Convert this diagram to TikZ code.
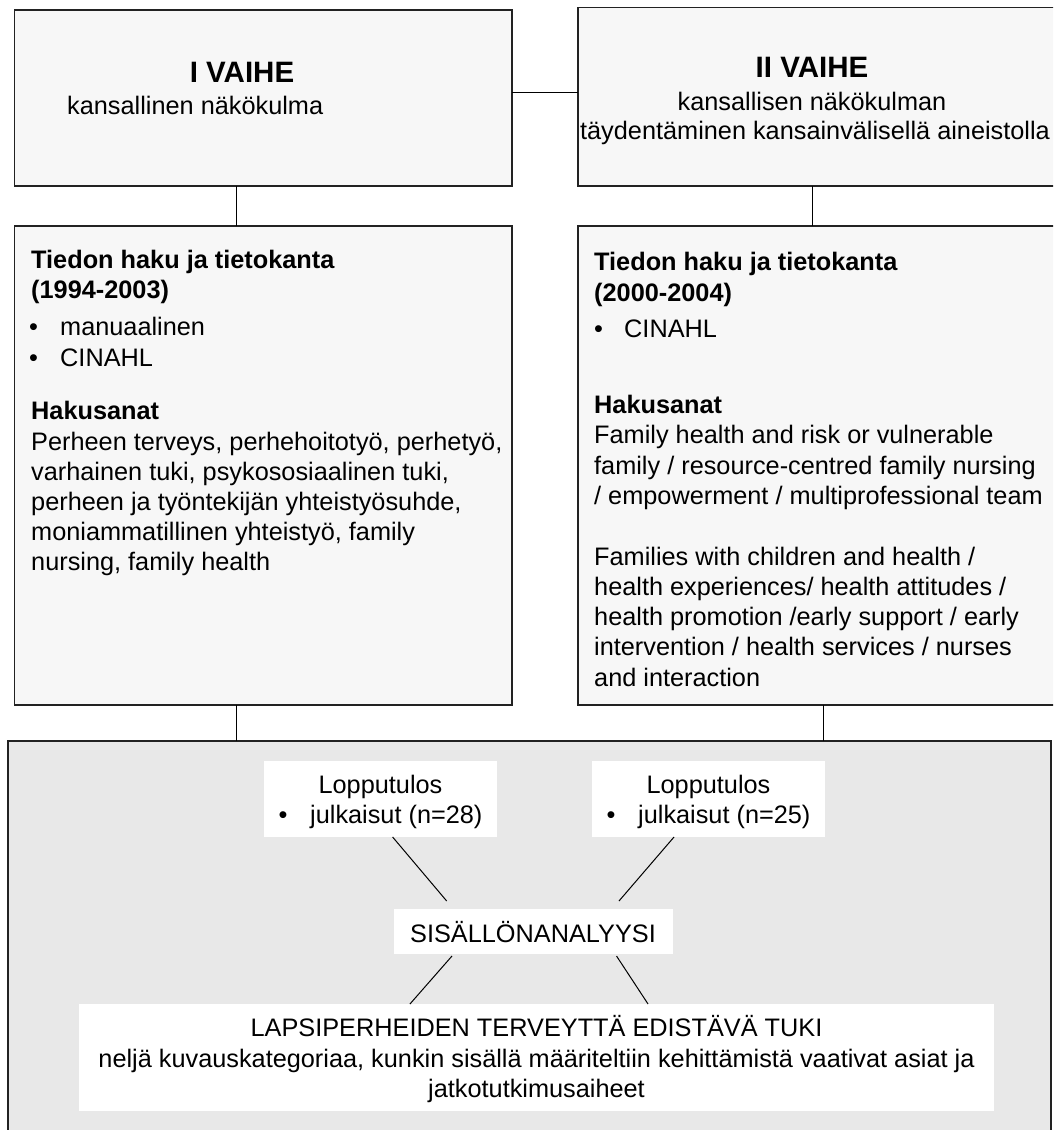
\documentclass[tikz,border=0pt]{standalone}
\usepackage{fontspec}
\setmainfont{Liberation Sans}
\usetikzlibrary{calc}
\definecolor{boxfill}{HTML}{F7F7F7}
\definecolor{grayfill}{HTML}{E8E8E8}
\definecolor{edge}{HTML}{222222}
\begin{document}
\begin{tikzpicture}[x=1pt,y=-1pt,
  box/.style={draw=edge, line width=1.5pt, fill=boxfill, anchor=north west, inner sep=0pt, outer sep=0pt},
  outer/.style={draw=edge, line width=1.8pt, fill=grayfill, anchor=north west, inner sep=0pt, outer sep=0pt},
  wbox/.style={fill=white, anchor=north west, inner sep=0pt, outer sep=0pt},
  conn/.style={draw=black, line width=1pt},
  txt/.style={anchor=base west, inner sep=0pt, font=\fontsize{25.3}{30}\selectfont},
  ctxt/.style={anchor=base, inner sep=0pt, font=\fontsize{25.3}{30}\selectfont},
  btxt/.style={anchor=base west, inner sep=0pt, font=\fontsize{25.3}{30}\selectfont\bfseries},
  title/.style={anchor=base, inner sep=0pt, font=\fontsize{29.5}{33}\selectfont\bfseries}
]
\useasboundingbox (0,0) rectangle (1053,1130);
\clip (0,0) rectangle (1053,1130);

% boxes
\node[box, minimum width=497.5pt, minimum height=176pt] (p1) at (14.5,10) {};
\node[box, minimum width=500pt, minimum height=178.5pt] (p2) at (578,7.5) {};
\node[box, minimum width=497.5pt, minimum height=479pt] (b1) at (14.5,226) {};
\node[box, minimum width=500pt, minimum height=479pt] (b2) at (578,226) {};
\node[outer, minimum width=1043pt, minimum height=450pt] (g) at (8,741) {};
\node[wbox, minimum width=233pt, minimum height=76pt] (l1) at (264,761) {};
\node[wbox, minimum width=233pt, minimum height=76pt] (l2) at (592,761) {};
\node[wbox, minimum width=278.7pt, minimum height=45pt] (sis) at (394,909) {};
\node[wbox, minimum width=915pt, minimum height=107pt] (fin) at (79,1004) {};

% connectors between boxes
\coordinate (c12) at ($(p1.north east)!0.47!(p1.south east)$);
\draw[conn] (c12) -- (c12 -| p2.west);
\coordinate (c1) at ($(p1.south west)!0.446!(p1.south east)$);
\draw[conn] (c1) -- (c1 |- b1.north);
\coordinate (c2) at ($(p2.south west)!0.468!(p2.south east)$);
\draw[conn] (c2) -- (c2 |- b2.north);
\coordinate (c3) at ($(b1.south west)!0.446!(b1.south east)$);
\draw[conn] (c3) -- (c3 |- g.north);
\coordinate (c4) at ($(b2.south west)!0.4908!(b2.south east)$);
\draw[conn] (c4) -- (c4 |- g.north);

\draw[conn, shorten >=10.5pt] ($(l1.south west)!0.552!(l1.south east)$) -- ($(sis.north west)!0.2133!(sis.north east)$);
\draw[conn, shorten >=10.5pt] ($(l2.south west)!0.352!(l2.south east)$) -- ($(sis.north west)!0.7826!(sis.north east)$);
\draw[conn, shorten <=2.5pt] ($(sis.south west)!0.2144!(sis.south east)$) -- ($(fin.north west)!0.3617!(fin.north east)$);
\draw[conn, shorten <=2.5pt] ($(sis.south west)!0.7937!(sis.south east)$) -- ($(fin.north west)!0.6219!(fin.north east)$);

% phase I
\node[title] (p1t) at (242,82) {I VAIHE};
\node[txt] (p1s) at (67,114) {kansallinen näkökulma};
% phase II
\node[title] (p2t) at (812,77) {II VAIHE};
\node[ctxt] (p2s1) at (812,110) {kansallisen näkökulman};
\node[ctxt] (p2s2) at (815,139) {täydentäminen kansainvälisellä aineistolla};

% left search box
\node[btxt] (a1) at (31,268) {Tiedon haku ja tietokanta};
\node[btxt] (a2) at (31,298) {(1994-2003)};
\node[txt] (a3b) at (29,335) {•};
\node[txt] (a3) at (60,335) {manuaalinen};
\node[txt] (a4b) at (29,366) {•};
\node[txt] (a4) at (60,366) {CINAHL};
\node[btxt] (a5) at (31,419) {Hakusanat};
\node[txt] (a6) at (31,450) {Perheen terveys, perhehoitotyö, perhetyö,};
\node[txt] (a7) at (31,480) {varhainen tuki, psykososiaalinen tuki,};
\node[txt] (a8) at (31,510) {perheen ja työntekijän yhteistyösuhde,};
\node[txt] (a9) at (31,540) {moniammatillinen yhteistyö, family};
\node[txt] (a10) at (31,570) {nursing, family health};

% right search box
\node[btxt] (r1) at (594,270) {Tiedon haku ja tietokanta};
\node[btxt] (r2) at (594,301) {(2000-2004)};
\node[txt] (r3b) at (594,337) {•};
\node[txt] (r3) at (624,337) {CINAHL};
\node[btxt] (r4) at (594,413) {Hakusanat};
\node[txt] (r5) at (594,443) {Family health and risk or vulnerable};
\node[txt] (r6) at (594,474) {family / resource-centred family nursing};
\node[txt] (r7) at (594,504) {/ empowerment / multiprofessional team};
\node[txt] (r8) at (594,565) {Families with children and health /};
\node[txt] (r9) at (594,595) {health experiences/ health attitudes /};
\node[txt] (r10) at (594,625) {health promotion /early support / early};
\node[txt] (r11) at (594,655) {intervention / health services / nurses};
\node[txt] (r12) at (594,686) {and interaction};

% results
\node[ctxt] (l1a) at (380.5,793) {Lopputulos};
\node[txt] (l1b) at (278.5,823) {•};
\node[txt] (l1c) at (310,823) {julkaisut (n=28)};
\node[ctxt] (l2a) at (708.5,793) {Lopputulos};
\node[txt] (l2b) at (606.5,823) {•};
\node[txt] (l2c) at (638,823) {julkaisut (n=25)};

\node[ctxt] (sist) at (533,942) {SISÄLLÖNANALYYSI};

\node[ctxt] (f1) at (536.5,1036) {LAPSIPERHEIDEN TERVEYTTÄ EDISTÄVÄ TUKI};
\node[ctxt] (f2) at (536.5,1067) {neljä kuvauskategoriaa, kunkin sisällä määriteltiin kehittämistä vaativat asiat ja};
\node[ctxt] (f3) at (536.5,1097) {jatkotutkimusaiheet};
\end{tikzpicture}
\end{document}
